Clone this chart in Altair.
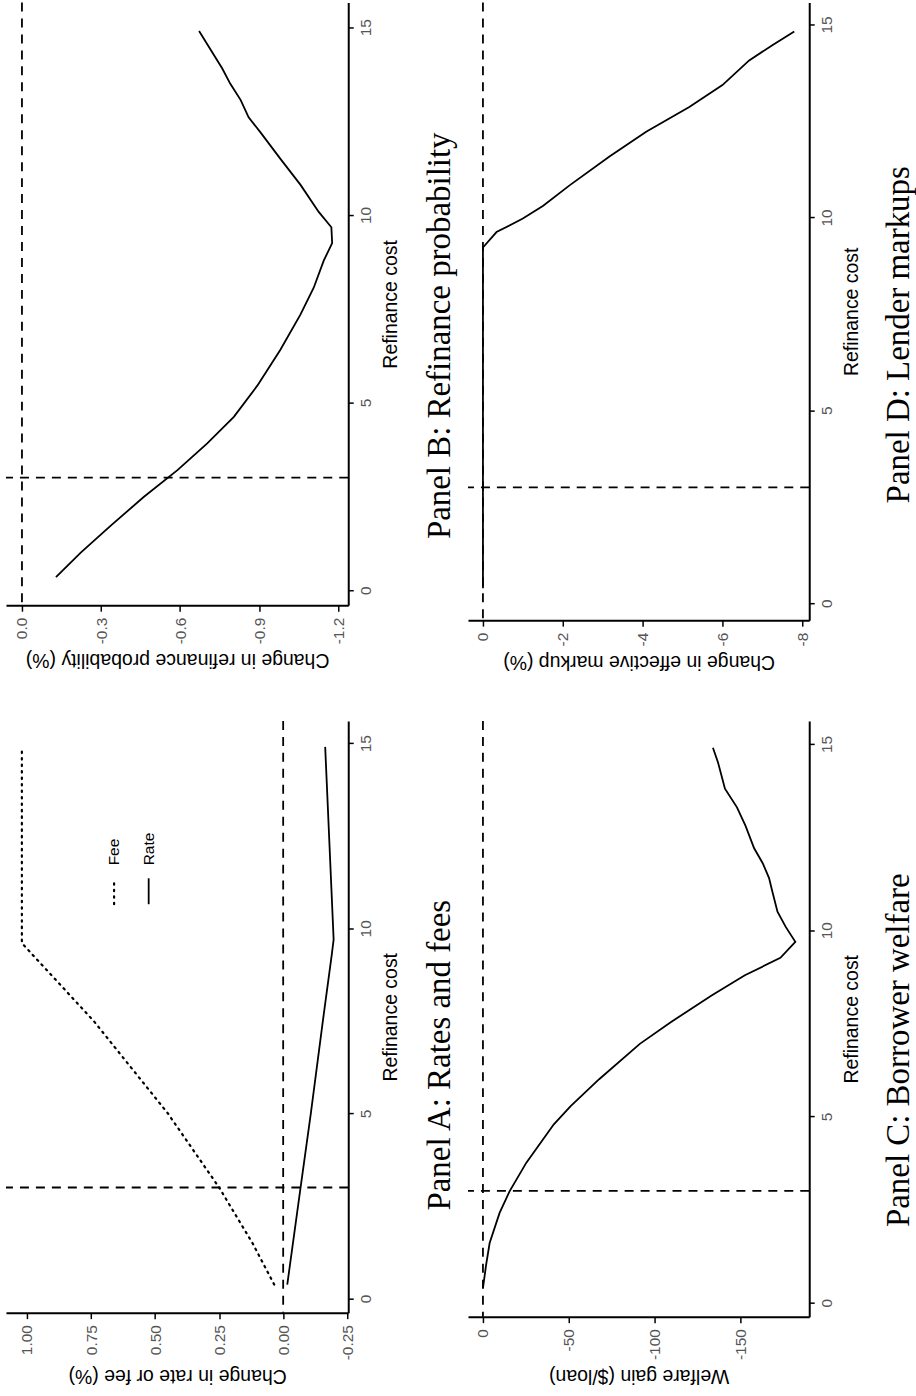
import altair as alt
import pandas as pd

# ---------------- data ----------------
# Panel A: Rates and fees
A_fee_cost = [0.38, 1.5, 3.0, 5.0, 7.5, 9.6, 14.8]
A_fee_val = [0.035, 0.12, 0.25, 0.45, 0.74, 1.02, 1.02]
A_rate_cost = [0.38, 3.0, 5.0, 7.5, 9.3, 9.7, 14.9]
A_rate_val = [-0.016, -0.068, -0.108, -0.155, -0.19, -0.197, -0.164]
A_legend_labels = ["Fee", "Rate"]
A_legend_val = [0.66, 0.525]
A_legend_sym_cost = [10.65, 11.35]
A_legend_lab_cost = 11.7

# Panel B: Refinance probability
B_cost = [0.35, 1.0, 1.72, 2.49, 3.2, 3.91, 4.62, 5.45, 6.4, 7.35, 8.06, 8.78,
          9.25, 9.67, 10.08, 10.8, 11.5, 12.2, 12.6, 13.06, 13.5, 13.9, 14.9]
B_val = [-0.129, -0.223, -0.337, -0.463, -0.59, -0.703, -0.804, -0.893, -0.98,
         -1.057, -1.107, -1.145, -1.177, -1.174, -1.126, -1.057, -0.98, -0.905,
         -0.86, -0.83, -0.79, -0.76, -0.672]

# Panel C: Borrower welfare
C_cost = [0.39, 1.0, 1.6, 2.41, 2.99, 3.76, 4.79, 5.28, 6.0, 6.95, 7.53, 8.25,
          8.79, 9.26, 9.69, 10.09, 10.5, 11.04, 11.4, 11.8, 12.2, 12.8, 13.3,
          13.8, 14.5, 14.9]
C_val = [0.0, -1.8, -3.9, -9.7, -15.5, -25.3, -41.3, -51.1, -67.7, -91.4,
         -109.4, -133.2, -152.6, -173.3, -182.0, -176.4, -171.6, -168.6, -166.7,
         -163.0, -158.0, -153.0, -148.0, -141.0, -137.0, -134.0]

# Panel D: Lender markups
D_cost = [0.39, 9.22, 9.62, 9.97, 10.3, 10.83, 11.58, 12.22, 12.86, 13.43,
          14.07, 14.47, 14.82]
D_val = [0.0, 0.0, -0.34, -1.0, -1.51, -2.17, -3.17, -4.09, -5.17, -6.0,
         -6.67, -7.26, -7.8]

REF_COST = 3.0
REF_VAL = 0.0
COST_TICKS = [0, 5, 10, 15]

SANS = "Liberation Sans"
SERIF = "Liberation Serif"


def series_df(cost, val):
    return pd.DataFrame({"cost": cost, "val": val, "i": list(range(len(cost)))})


def hyphen_fmt(fmt):
    return "replace(format(datum.value, '%s'), '\u2212', '-')" % fmt


def panel(lines, vdom, cdom, vticks, vfmt, vtitle, caption, w, h, cap_xy,
          extra=None):
    xs = alt.Scale(domain=vdom, reverse=True, nice=False, zero=False)
    ys = alt.Scale(domain=cdom, nice=False, zero=False)
    xax = alt.Axis(orient="bottom", values=vticks, labelExpr=hyphen_fmt(vfmt),
                   title=vtitle,
                   grid=False, labelAngle=270, labelAlign="right",
                   labelBaseline="middle", labelPadding=6, tickSize=6,
                   tickWidth=1.5, domainWidth=2, domainColor="black",
                   tickColor="black", labelFont=SANS, labelFontSize=15.5,
                   labelColor="#555555", titleFont=SANS, titleFontSize=19.5,
                   titleFontWeight="normal", titleColor="black",
                   titleAngle=180, titleBaseline="bottom", titlePadding=6,
                   labelFlush=False, labelOverlap=False)
    yax = alt.Axis(orient="right", values=COST_TICKS, format="d",
                   title="Refinance cost", grid=False, labelAngle=270,
                   labelAlign="center", labelBaseline="top", labelPadding=5,
                   tickSize=5, tickWidth=1.5, domainWidth=2,
                   domainColor="black", tickColor="black", labelFont=SANS,
                   labelFontSize=15.5, labelColor="#555555", titleFont=SANS,
                   titleFontSize=19.5, titleFontWeight="normal",
                   titleColor="black", titleAngle=270, titleBaseline="top",
                   titlePadding=8, labelFlush=False, labelOverlap=False)

    ref_v = alt.Chart(pd.DataFrame({"val": [REF_VAL]})).mark_rule(
        color="black", strokeWidth=1.8, strokeDash=[9, 7]
    ).encode(x=alt.X("val:Q", scale=xs, axis=xax))
    ref_c = alt.Chart(pd.DataFrame({"cost": [REF_COST]})).mark_rule(
        color="black", strokeWidth=1.8, strokeDash=[9, 7]
    ).encode(y=alt.Y("cost:Q", scale=ys, axis=yax))

    layers = [ref_v, ref_c]
    for df, dash in lines:
        kw = dict(color="black", strokeWidth=1.8)
        if dash is not None:
            kw.update(strokeDash=dash, strokeCap="round", strokeWidth=2.2)
        layers.append(
            alt.Chart(df).mark_line(**kw).encode(
                x=alt.X("val:Q", scale=xs, axis=xax),
                y=alt.Y("cost:Q", scale=ys, axis=yax),
                order="i:Q",
            )
        )
    if extra is not None:
        layers.extend(extra(xs, ys, xax, yax))

    cap = alt.Chart(pd.DataFrame({"t": [caption]})).mark_text(
        angle=270, align="center", baseline="middle", font=SERIF,
        fontSize=33, color="black"
    ).encode(x=alt.value(cap_xy[0]), y=alt.value(cap_xy[1]), text="t:N")
    layers.append(cap)

    return alt.layer(*layers).properties(width=w, height=h)


def legend_a(xs, ys, xax, yax):
    sym = pd.DataFrame({
        "val": [A_legend_val[0], A_legend_val[0], A_legend_val[1], A_legend_val[1]],
        "cost": [A_legend_sym_cost[0], A_legend_sym_cost[1]] * 2,
        "lab": [A_legend_labels[0]] * 2 + [A_legend_labels[1]] * 2,
    })
    fee_sym = alt.Chart(sym[sym.lab == "Fee"]).mark_line(
        color="black", strokeWidth=2.2, strokeDash=[1.5, 5], strokeCap="round"
    ).encode(x=alt.X("val:Q", scale=xs, axis=xax),
             y=alt.Y("cost:Q", scale=ys, axis=yax))
    rate_sym = alt.Chart(sym[sym.lab == "Rate"]).mark_line(
        color="black", strokeWidth=1.8
    ).encode(x=alt.X("val:Q", scale=xs, axis=xax),
             y=alt.Y("cost:Q", scale=ys, axis=yax))
    labs = pd.DataFrame({"val": A_legend_val, "cost": [A_legend_lab_cost] * 2,
                         "lab": A_legend_labels})
    txt = alt.Chart(labs).mark_text(
        angle=270, align="left", baseline="middle", font=SANS, fontSize=15.5,
        color="black"
    ).encode(x=alt.X("val:Q", scale=xs, axis=xax),
             y=alt.Y("cost:Q", scale=ys, axis=yax), text="lab:N")
    return [fee_sym, rate_sym, txt]


pB = panel([(series_df(B_cost, B_val), None)], [-1.238, 0.0606], [-0.40, 15.66],
           [0.0, -0.3, -0.6, -0.9, -1.2], ".1f",
           "Change in refinance probability (%)",
           "Panel B: Refinance probability", 343, 604, (435, 334))
pD = panel([(series_df(D_cost, D_val), None)], [-8.175, 0.375], [-0.44, 15.57],
           [0, -2, -4, -6, -8], "d", "Change in effective markup (%)",
           "Panel D: Lender markups", 342, 619, (432, 333))
pA = panel([(series_df(A_fee_cost, A_fee_val), [1.5, 5]),
            (series_df(A_rate_cost, A_rate_val), None)],
           [-0.254, 1.082], [-0.38, 15.6], [1.0, 0.75, 0.5, 0.25, 0.0, -0.25],
           ".2f", "Change in rate or fee (%)", "Panel A: Rates and fees",
           343, 593, (435, 335), extra=legend_a)
pC = panel([(series_df(C_cost, C_val), None)], [-190.1, 8.72], [-0.375, 15.62],
           [0, -50, -100, -150], "d", "Welfare gain ($/loan)",
           "Panel C: Borrower welfare", 342, 597, (432, 330))

chart = alt.concat(
    pB, pD, pA, pC, columns=2, spacing={"row": 101, "column": 120},
    bounds="flush",
).properties(
    padding={"left": 5, "top": 0, "right": 0, "bottom": 0},
    background="white",
).configure_view(stroke=None)

chart.save("out.html", embed_options={"renderer": "svg", "actions": False})
